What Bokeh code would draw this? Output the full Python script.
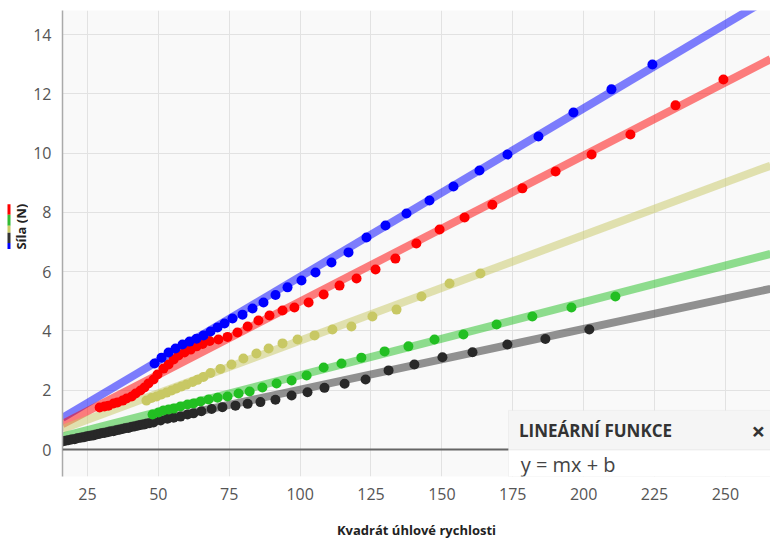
import numpy as np
from bokeh.plotting import figure
from bokeh.layouts import row
from bokeh.models import Range1d, Span, BoxAnnotation, Label, FixedTicker
from bokeh.core.properties import value
from bokeh.embed import file_html
from bokeh.resources import INLINE

# ---------------- data ----------------
x_ticks = [25, 50, 75, 100, 125, 150, 175, 200, 225, 250]
y_ticks = [0, 2, 4, 6, 8, 10, 12, 14]

black_x = [16.2, 17.3, 18.3, 19.4, 20.5, 21.5, 22.6, 23.6, 24.7, 25.7, 26.8, 27.9, 28.9, 30.0, 31.0,
           32.1, 33.1, 34.2, 35.3, 36.3, 37.4, 38.4, 39.5, 40.5, 41.6, 42.7, 43.7, 44.8, 45.8, 46.9,
           48.3, 50.8, 53.2, 55.4, 57.8, 60.3, 62.4, 65.2, 68.8, 72.6, 77.2, 81.5, 86.0, 91.3, 97.0,
           102.6, 108.6, 115.7, 123.1, 131.2, 140.3, 150.2, 160.8, 173.1, 186.5, 202.0]
black_y = [0.27, 0.30, 0.31, 0.34, 0.35, 0.38, 0.40, 0.41, 0.44, 0.46, 0.47, 0.50, 0.52, 0.55, 0.56,
           0.58, 0.61, 0.62, 0.65, 0.67, 0.69, 0.72, 0.73, 0.76, 0.78, 0.80, 0.83, 0.84, 0.87, 0.89,
           0.91, 0.98, 1.04, 1.07, 1.11, 1.18, 1.22, 1.29, 1.37, 1.43, 1.48, 1.54, 1.60, 1.68, 1.82,
           1.93, 2.08, 2.22, 2.36, 2.67, 2.87, 3.11, 3.28, 3.54, 3.73, 4.05]

green_x = [47.96, 50.07, 51.83, 53.6, 55.4, 57.8, 60.3, 62.4, 64.9, 67.7, 70.9, 74.4, 78.3, 82.2, 86.7,
           91.7, 97.0, 102.3, 108.3, 114.6, 121.6, 129.8, 138.2, 147.4, 157.6, 169.3, 181.9, 195.7, 211.2]
green_y = [1.18, 1.25, 1.32, 1.35, 1.38, 1.45, 1.52, 1.55, 1.62, 1.69, 1.75, 1.79, 1.89, 1.96, 2.09,
           2.23, 2.33, 2.50, 2.77, 2.90, 3.10, 3.31, 3.48, 3.71, 3.88, 4.22, 4.49, 4.79, 5.16]

yellow_x = [45.8, 47.6, 49.4, 51.1, 52.9, 54.7, 56.4, 58.2, 59.9, 62.1, 63.8, 65.9, 68.4, 71.9, 75.8,
            80.0, 84.6, 88.9, 93.8, 99.1, 105.1, 111.4, 118.1, 125.5, 134.0, 142.8, 152.7, 163.6]
yellow_y = [1.65, 1.74, 1.79, 1.86, 1.92, 1.99, 2.06, 2.13, 2.19, 2.28, 2.35, 2.45, 2.58, 2.72, 2.87,
            3.07, 3.24, 3.41, 3.58, 3.71, 3.85, 4.05, 4.15, 4.49, 4.72, 5.16, 5.60, 5.94]

red_x = [29.3, 31.0, 32.4, 34.2, 35.6, 37.4, 38.8, 40.6, 42.0, 43.7, 45.1, 46.5, 48.3, 49.7, 51.8,
         53.6, 55.4, 57.1, 59.2, 61.4, 63.5, 65.6, 68.1, 71.2, 74.4, 77.9, 81.5, 85.3, 89.2, 93.8,
         98.0, 103.0, 108.3, 113.9, 119.9, 126.6, 133.6, 141.0, 149.2, 158.0, 167.8, 178.4, 190.1,
         202.8, 216.5, 232.4, 249.3]
red_y = [1.42, 1.45, 1.48, 1.55, 1.59, 1.65, 1.72, 1.79, 1.89, 1.99, 2.09, 2.23, 2.36, 2.53, 2.73,
         2.87, 3.04, 3.17, 3.27, 3.37, 3.48, 3.56, 3.66, 3.71, 3.80, 3.95, 4.15, 4.35, 4.52, 4.69,
         4.79, 4.96, 5.23, 5.53, 5.77, 6.07, 6.44, 6.95, 7.42, 7.83, 8.26, 8.81, 9.38,
         9.95, 10.63, 11.61, 12.48]

blue_x = [48.66, 51.13, 53.60, 56.06, 58.53, 61.0, 63.47, 65.94, 68.41, 70.87, 73.34, 76.16, 79.69,
          83.22, 87.09, 91.33, 95.56, 100.49, 105.43, 111.07, 117.07, 123.41, 130.11, 137.52, 145.63,
          154.09, 163.26, 173.13, 184.06, 196.40, 209.80, 224.26]
blue_y = [2.90, 3.10, 3.27, 3.41, 3.54, 3.64, 3.74, 3.85, 3.98, 4.12, 4.25, 4.42, 4.55, 4.76, 4.96,
          5.21, 5.47, 5.70, 5.97, 6.31, 6.65, 7.15, 7.56, 7.96, 8.40, 8.87, 9.41, 9.95, 10.56, 11.37,
          12.15, 12.99]

# linear fits y = m x + b
fit_m = {"blue": 0.0568, "red": 0.0493, "yellow": 0.03556, "green": 0.02467, "black": 0.0205}
fit_b = {"blue": 0.15, "red": 0.06, "yellow": 0.12, "green": 0.04, "black": -0.03}

series = [
    ("blue", blue_x, blue_y, "#0000ff"),
    ("red", red_x, red_y, "#ff0000"),
    ("yellow", yellow_x, yellow_y, "#c8c864"),
    ("green", green_x, green_y, "#22bf22"),
    ("black", black_x, black_y, "#282828"),
]
for _, xs, ys, _c in series:
    assert len(xs) == len(ys)

X0, X1 = 16.2, 265.9
Y0, Y1 = -0.91, 14.81
FONT = "Open Sans"
W, H = 770, 541
STRIP_W = 28

p = figure(width=W - STRIP_W, height=H, x_range=Range1d(X0, X1), y_range=Range1d(Y0, Y1),
           output_backend="svg", toolbar_location=None,
           min_border_left=34, min_border_right=0, min_border_top=10, min_border_bottom=63)
p.background_fill_color = "#f9f9f9"
p.border_fill_color = "white"
p.outline_line_color = None

p.xaxis.ticker = FixedTicker(ticks=x_ticks)
p.yaxis.ticker = FixedTicker(ticks=y_ticks)
for ax in (p.xaxis, p.yaxis):
    ax.major_tick_line_color = None
    ax.minor_tick_line_color = None
    ax.major_label_text_font = FONT
    ax.major_label_text_font_size = "16px"
    ax.major_label_text_color = "#555555"
p.xaxis.axis_label_text_font = FONT
p.xaxis.axis_label_text_font_size = "13px"
p.xaxis.axis_label_text_font_style = "bold"
p.xaxis.axis_label_text_color = "#222222"
p.xaxis.axis_line_color = None
p.yaxis.axis_line_color = "#aaaaaa"
p.yaxis.axis_line_width = 1.5
p.xaxis.major_label_standoff = 5
p.yaxis.major_label_standoff = 5
p.xaxis.axis_label = "Kvadrát úhlové rychlosti"
p.xaxis.axis_label_standoff = 18

p.xgrid.grid_line_color = "#e2e2e2"
p.ygrid.grid_line_color = "#e2e2e2"

# fit lines
for name, xs, ys, col in series:
    lx = np.array([X0, X1])
    ly = fit_m[name] * lx + fit_b[name]
    p.line(lx, ly, line_color=col, line_alpha=0.5, line_width=8)

# points
for name, xs, ys, col in reversed(series):
    p.scatter(xs, ys, size=10, fill_color=col, line_color=None)

# zero line
p.add_layout(Span(location=0, dimension="width", line_color="#666666", line_width=2))

# function panel
p.add_layout(BoxAnnotation(left=173.5, top=1.32, bottom=-0.02, fill_color="#f5f5f5", fill_alpha=1,
                           line_color="#dcdcdc", line_width=1))
p.add_layout(BoxAnnotation(left=173.5, top=-0.02, fill_color="#ffffff", fill_alpha=1,
                           line_color="#dcdcdc", line_width=1))
p.add_layout(Label(x=177.2, y=0.64, text="LINEÁRNÍ FUNKCE", text_font=FONT, text_font_size="17px",
                   text_font_style="bold", text_baseline="middle", text_color="#333333"))
p.add_layout(Label(x=261.6, y=0.64, text="×", text_font=FONT, text_font_size="24px",
                   text_font_style="bold", text_baseline="middle", text_align="center",
                   text_color="#333333"))
p.add_layout(Label(x=177.8, y=-0.52, text="y = mx + b", text_font=FONT, text_font_size="20px",
                   text_baseline="middle", text_color="#444444"))

# left strip: y-axis title with colored series key (pixel coordinates, top-down)
s = figure(width=STRIP_W, height=H, x_range=Range1d(0, STRIP_W), y_range=Range1d(H, 0),
           output_backend="svg", toolbar_location=None, x_axis_type=None, y_axis_type=None,
           min_border=0)
s.outline_line_color = None
s.grid.visible = False
s.background_fill_color = "white"
s.border_fill_color = "white"
key_colors = ["#ff0000", "#33bb33", "#cccc66", "#333333", "#0000ff"]
key_top = [225, 237, 250, 258, 270]
key_bottom = [237, 250, 258, 270, 277]
s.quad(left=7, right=10, top=key_top, bottom=key_bottom, fill_color=key_colors, line_color=None)
s.text(x=[20], y=[251], text=["Síla (N)"], angle=np.pi / 2, text_align="center",
       text_baseline="middle", text_font=value(FONT), text_font_size="13px",
       text_font_style="bold", text_color="#222222")

layout = row(s, p)
open("out.html", "w").write(file_html(layout, INLINE))
